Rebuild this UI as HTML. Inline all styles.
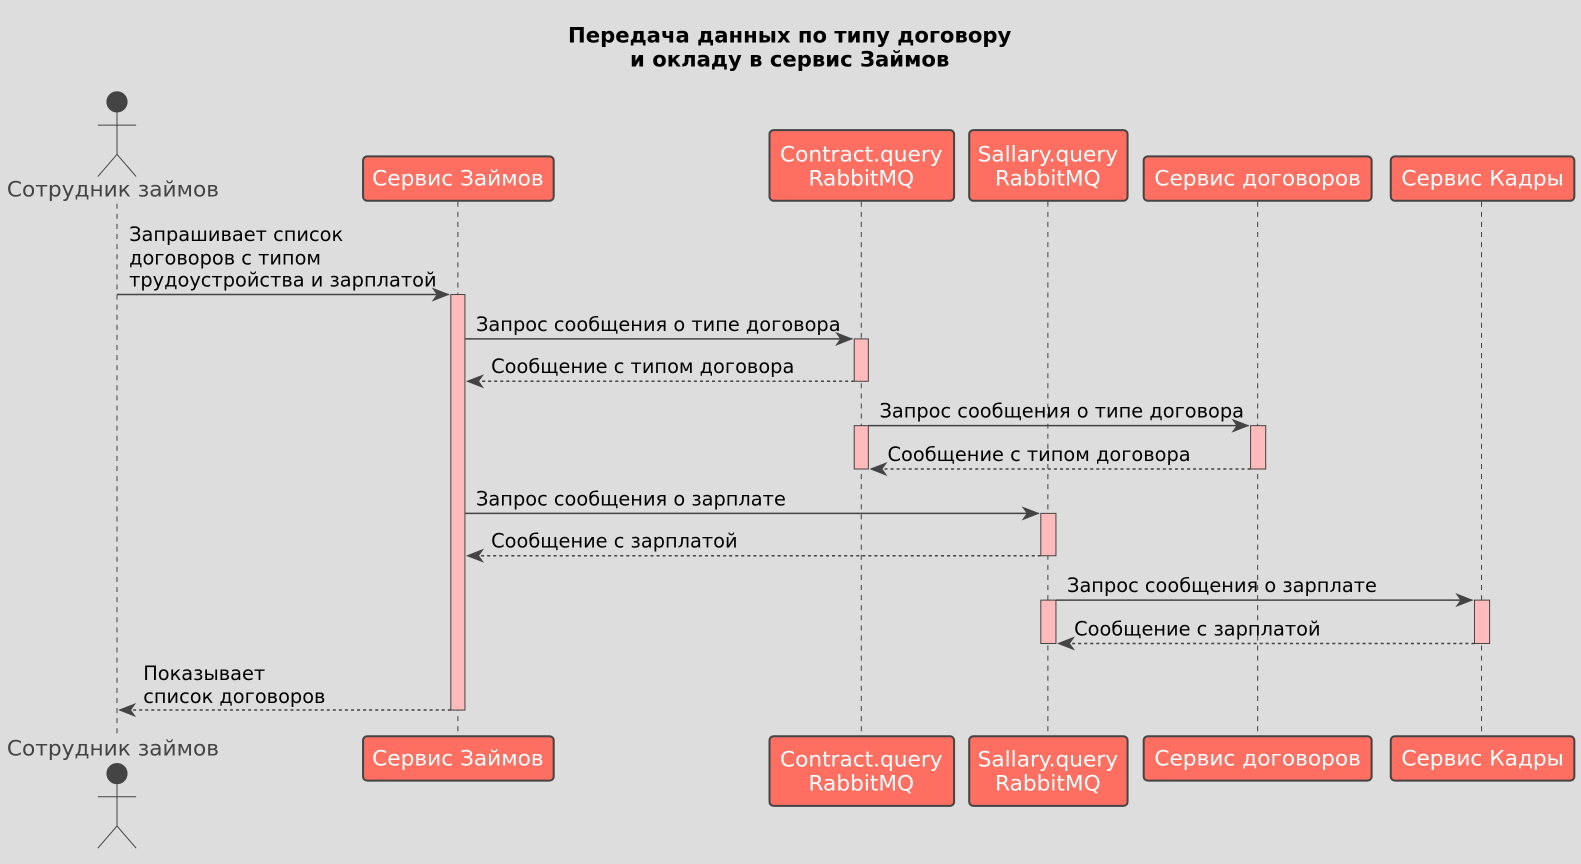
<!DOCTYPE html>
<html><head><meta charset="utf-8"><style>html,body{margin:0;padding:0;background:#dddddd;overflow:hidden}svg{display:block}</style></head>
<body>
<svg width="1594.5" height="864.4" viewBox="0 0 1581 857" xmlns="http://www.w3.org/2000/svg" font-family="DejaVu Sans, Liberation Sans, sans-serif">
<rect width="1581" height="857" fill="#dddddd"/>
<g font-weight="bold" font-size="21" text-anchor="middle" fill="#000">
<text x="783" y="42">Передача данных по типу договору</text>
<text x="783" y="66">и окладу в сервис Займов</text>
</g>
<g stroke="#444" stroke-width="1" stroke-dasharray="5,5">
<line x1="116" y1="202" x2="116" y2="730"/>
<line x1="454" y1="200" x2="454" y2="730"/>
<line x1="854" y1="200" x2="854" y2="730"/>
<line x1="1039" y1="200" x2="1039" y2="730"/>
<line x1="1247" y1="200" x2="1247" y2="730"/>
<line x1="1469" y1="200" x2="1469" y2="730"/>
</g>
<g stroke="#444" stroke-width="1" fill="none">
<circle cx="116" cy="101" r="10" fill="#444"/>
<line x1="116" y1="111" x2="116" y2="153"/><line x1="97" y1="124" x2="135" y2="124"/>
<polyline points="97,175 116,153 135,175"/>
<circle cx="116" cy="767" r="10" fill="#444"/>
<line x1="116" y1="777" x2="116" y2="819"/><line x1="97" y1="790" x2="135" y2="790"/>
<polyline points="97,841 116,819 135,841"/>
</g>
<g font-size="21.5" fill="#444" text-anchor="middle">
<text x="112" y="195">Сотрудник займов</text>
<text x="112" y="749">Сотрудник займов</text>
</g>
<g fill="#ff6f61" stroke="#444" stroke-width="2">
<rect x="360" y="155" width="189" height="44" rx="4"/>
<rect x="763" y="129" width="183" height="70" rx="4"/>
<rect x="961" y="129" width="157" height="70" rx="4"/>
<rect x="1134" y="155" width="226" height="44" rx="4"/>
<rect x="1379" y="155" width="182" height="44" rx="4"/>
<rect x="360" y="730" width="189" height="44" rx="4"/>
<rect x="763" y="730" width="183" height="69" rx="4"/>
<rect x="961" y="730" width="157" height="69" rx="4"/>
<rect x="1134" y="730" width="226" height="44" rx="4"/>
<rect x="1379" y="730" width="182" height="44" rx="4"/>
</g>
<g font-size="21.5" fill="#fff" text-anchor="middle">
<text x="454" y="184">Сервис Займов</text>
<text x="854" y="160">Contract.query</text><text x="854" y="184">RabbitMQ</text>
<text x="1039" y="160">Sallary.query</text><text x="1039" y="184">RabbitMQ</text>
<text x="1247" y="184">Сервис договоров</text>
<text x="1470" y="184">Сервис Кадры</text>
<text x="454" y="759">Сервис Займов</text>
<text x="854" y="760">Contract.query</text><text x="854" y="784">RabbitMQ</text>
<text x="1039" y="760">Sallary.query</text><text x="1039" y="784">RabbitMQ</text>
<text x="1247" y="759">Сервис договоров</text>
<text x="1470" y="759">Сервис Кадры</text>
</g>
<g fill="#ffbbbb" stroke="#444" stroke-width="1">
<rect x="447" y="292" width="14" height="412"/>
<rect x="847" y="336" width="14" height="42"/>
<rect x="847" y="422" width="14" height="43"/>
<rect x="1240" y="422" width="15" height="43"/>
<rect x="1032" y="509" width="15" height="42"/>
<rect x="1032" y="595" width="15" height="43"/>
<rect x="1462" y="595" width="15" height="43"/>
</g>
<g stroke="#444" stroke-width="1.5" fill="none">
<line x1="116" y1="292" x2="445" y2="292"/>
<line x1="461" y1="336" x2="845" y2="336"/>
<line x1="847" y1="378" x2="463" y2="378" stroke-dasharray="3,3"/>
<line x1="861" y1="422" x2="1238" y2="422"/>
<line x1="1240" y1="465" x2="863" y2="465" stroke-dasharray="3,3"/>
<line x1="461" y1="509" x2="1030" y2="509"/>
<line x1="1032" y1="551" x2="463" y2="551" stroke-dasharray="3,3"/>
<line x1="1047" y1="595" x2="1460" y2="595"/>
<line x1="1462" y1="638" x2="1049" y2="638" stroke-dasharray="3,3"/>
<line x1="447" y1="704" x2="118" y2="704" stroke-dasharray="3,3"/>
</g>
<g fill="#444">
<polygon points="446,292 428,285 433,292 428,299"/>
<polygon points="846,336 828,329 833,336 828,343"/>
<polygon points="462,378 480,371 475,378 480,385"/>
<polygon points="1239,422 1221,415 1226,422 1221,429"/>
<polygon points="862,465 880,458 875,465 880,472"/>
<polygon points="1031,509 1013,502 1018,509 1013,516"/>
<polygon points="462,551 480,544 475,551 480,558"/>
<polygon points="1461,595 1443,588 1448,595 1443,602"/>
<polygon points="1048,638 1066,631 1061,638 1066,645"/>
<polygon points="117,704 135,697 130,704 135,711"/>
</g>
<g font-size="19.2" fill="#000">
<text x="128" y="239">Запрашивает список</text>
<text x="128" y="262">договоров с типом</text>
<text x="128" y="284">трудоустройства и зарплатой</text>
<text x="472" y="328">Запрос сообщения о типе договора</text>
<text x="487" y="370">Сообщение с типом договора</text>
<text x="872" y="414">Запрос сообщения о типе договора</text>
<text x="880" y="457">Сообщение с типом договора</text>
<text x="472" y="501">Запрос сообщения о зарплате</text>
<text x="487" y="543">Сообщение с зарплатой</text>
<text x="1058" y="587">Запрос сообщения о зарплате</text>
<text x="1065" y="630">Сообщение с зарплатой</text>
<text x="142" y="674">Показывает</text>
<text x="142" y="697">список договоров</text>
</g>
</svg>
</body></html>
